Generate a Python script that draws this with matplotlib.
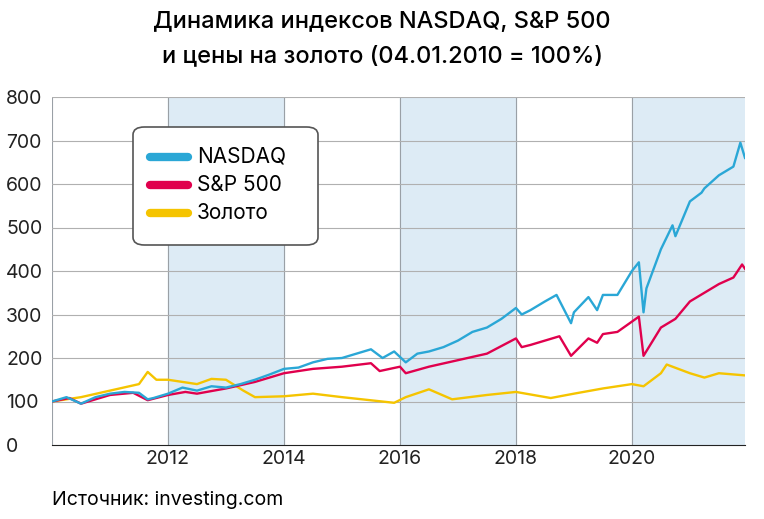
import matplotlib.pyplot as plt
from matplotlib.patches import FancyBboxPatch

plt.rcParams["font.family"] = ["Inter", "DejaVu Sans"]

nasdaq_t = [2010.0, 2010.25, 2010.5, 2010.75, 2011.0, 2011.25, 2011.5, 2011.65, 2011.75, 2012.0,
            2012.25, 2012.5, 2012.75, 2013.0, 2013.25, 2013.5, 2013.75, 2014.0, 2014.25, 2014.5,
            2014.75, 2015.0, 2015.25, 2015.5, 2015.7, 2015.9, 2016.1, 2016.3, 2016.5, 2016.75,
            2017.0, 2017.25, 2017.5, 2017.75, 2018.0, 2018.1, 2018.25, 2018.5, 2018.7, 2018.95,
            2019.0, 2019.25, 2019.4, 2019.5, 2019.75, 2020.0, 2020.12, 2020.2, 2020.25, 2020.5,
            2020.7, 2020.75, 2021.0, 2021.2, 2021.25, 2021.5, 2021.75, 2021.87, 2021.95]
nasdaq = [100, 110, 95, 110, 118, 122, 120, 105, 108, 118,
          132, 125, 135, 132, 140, 150, 162, 175, 178, 190,
          198, 200, 210, 220, 200, 215, 190, 210, 215, 225,
          240, 260, 270, 290, 315, 300, 310, 330, 345, 280,
          305, 340, 310, 345, 345, 400, 420, 305, 360, 450,
          505, 480, 560, 580, 590, 620, 640, 695, 660]

sp_t = [2010.0, 2010.3, 2010.5, 2011.0, 2011.4, 2011.65, 2012.0, 2012.3, 2012.5, 2013.0,
        2013.5, 2014.0, 2014.5, 2015.0, 2015.5, 2015.65, 2016.0, 2016.1, 2016.5, 2017.0,
        2017.5, 2018.0, 2018.1, 2018.25, 2018.75, 2018.95, 2019.25, 2019.4, 2019.5, 2019.75,
        2020.12, 2020.2, 2020.5, 2020.75, 2021.0, 2021.5, 2021.75, 2021.9, 2021.95]
sp = [100, 108, 95, 115, 120, 103, 115, 122, 118, 130,
      145, 165, 175, 180, 188, 170, 180, 165, 180, 195,
      210, 245, 225, 230, 250, 205, 245, 235, 255, 260,
      295, 205, 270, 290, 330, 370, 385, 415, 405]

gold_t = [2010.0, 2010.5, 2011.0, 2011.5, 2011.65, 2011.8, 2012.0, 2012.5, 2012.75, 2013.0,
          2013.3, 2013.5, 2014.0, 2014.5, 2015.0, 2015.9, 2016.1, 2016.5, 2016.9, 2017.5,
          2018.0, 2018.6, 2019.0, 2019.5, 2020.0, 2020.2, 2020.5, 2020.6, 2021.0, 2021.25,
          2021.5, 2021.95]
gold = [100, 110, 125, 140, 168, 150, 150, 140, 152, 150,
        125, 110, 112, 118, 110, 97, 110, 128, 105, 115,
        122, 108, 118, 130, 140, 135, 165, 185, 165, 155,
        165, 160]

bands = [(2012, 2014), (2016, 2018), (2020, 2022)]
years = [2012, 2014, 2016, 2018, 2020]
yticks = list(range(0, 801, 100))

fig = plt.figure(figsize=(7.64, 5.19), dpi=100)
ax = fig.add_axes([52 / 764, 1 - 445 / 519, 693 / 764, 348 / 519])
for a, b in bands:
    ax.axvspan(a, b, color="#ddebf5", zorder=0)
for x in [2010, 2012, 2014, 2016, 2018, 2020]:
    ax.axvline(x, color="#9aa0a6", lw=0.8, zorder=1)
for y in yticks[1:]:
    ax.axhline(y, color="#b0b0b0", lw=0.8, zorder=1)

ax.plot(gold_t, gold, color="#f5c400", lw=1.7, zorder=3)
ax.plot(sp_t, sp, color="#e0004d", lw=1.7, zorder=4)
ax.plot(nasdaq_t, nasdaq, color="#2aa7d6", lw=1.7, zorder=5)

ax.set_xlim(2010, 2021.95)
ax.set_ylim(0, 800)
ax.set_xticks(years)
ax.set_yticks(yticks)
ax.tick_params(length=0, labelsize=14, colors="#222222")
ax.tick_params(axis="y", pad=-2)
for lab in ax.get_yticklabels():
    lab.set_horizontalalignment("left")
    lab.set_x(-0.07)
for s in ["top", "right", "left"]:
    ax.spines[s].set_visible(False)
ax.spines["bottom"].set_color("#222222")

# legend box
box = FancyBboxPatch((133 / 764, 1 - 245 / 519), 185 / 764, 118 / 519,
                     boxstyle="round,pad=0,rounding_size=0.015",
                     transform=fig.transFigure, facecolor="white",
                     edgecolor="#555555", lw=1.2, zorder=10)
fig.patches.append(box)
for i, (name, c) in enumerate([("NASDAQ", "#2aa7d6"), ("S&P 500", "#e0004d"), ("Золото", "#f5c400")]):
    yy = 1 - (157 + i * 28) / 519
    fig.add_artist(plt.Line2D([150 / 764, 188 / 764], [yy, yy], color=c, lw=6,
                              solid_capstyle="round", transform=fig.transFigure, zorder=11))
    fig.text(197 / 764, yy, name, fontsize=15, va="center", zorder=11)

fig.text(0.5, 1 - 22 / 519, "Динамика индексов NASDAQ, S&P 500", ha="center",
         va="center", fontsize=17, fontweight="medium")
fig.text(0.5, 1 - 56 / 519, "и цены на золото (04.01.2010 = 100%)", ha="center",
         va="center", fontsize=17, fontweight="medium")
fig.text(52 / 764, 1 - 500 / 519, "Источник: investing.com", fontsize=14, va="center")

fig.savefig("out.png", dpi=100)
